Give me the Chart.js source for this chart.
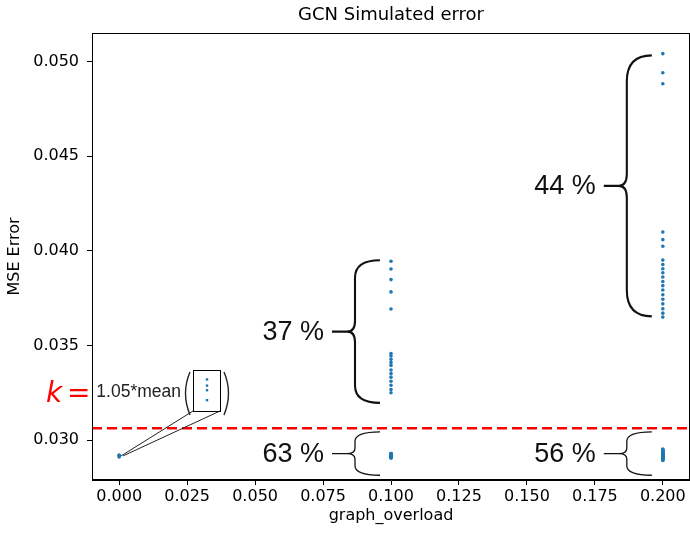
<!DOCTYPE html>
<html>
<head>
<meta charset="utf-8">
<script src="https://cdn.jsdelivr.net/npm/chart.js@4.4.0/dist/chart.umd.min.js"></script>
<style>
  html, body { margin: 0; padding: 0; background: #fff; }
  #wrap { position: relative; width: 690px; height: 535px; overflow: hidden; }
  #main { position: absolute; left: 0; top: 0; }
  #inset { position: absolute; left: 193px; top: 370px; }
</style>
</head>
<body>
<div id="wrap">
  <!-- 4px wider than the page: chart.js keeps a small right gap we cut off -->
  <canvas id="main" width="694" height="535"></canvas>
  <canvas id="inset" width="28" height="42"></canvas>
</div>
<script>
// graph_overload levels
const overloads = [0.0, 0.1, 0.2];

// MSE error per level
const errAt000 = [0.02922, 0.02919, 0.029168, 0.02912];
const errAt010 = [
  0.02906, 0.02907, 0.02909, 0.02910, 0.02911, 0.02912, 0.02912, 0.02913,
  0.02914, 0.02915, 0.02915, 0.02916, 0.02917, 0.02917, 0.02918, 0.02919,
  0.02919, 0.02920, 0.02921, 0.02921, 0.02922, 0.02923, 0.02924, 0.02925,
  0.02926, 0.02927, 0.02928, 0.02929, 0.02930,
  0.03945, 0.03904, 0.03848, 0.03783, 0.03693,
  0.03458, 0.03445, 0.03427, 0.03411, 0.03395, 0.03371, 0.03352, 0.03333,
  0.03311, 0.03290, 0.03268, 0.03251
];
const errAt020 = [
  0.02893, 0.02896, 0.02899, 0.02902, 0.02905, 0.02908, 0.02910, 0.02912,
  0.02914, 0.02916, 0.02918, 0.02920, 0.02922, 0.02924, 0.02926, 0.02928,
  0.02930, 0.02932, 0.02934, 0.02937, 0.02940, 0.02943, 0.02946, 0.02950,
  0.02953,
  0.05041, 0.04940, 0.04882, 0.04099, 0.04059, 0.04024,
  0.03951, 0.03928, 0.03905, 0.03884, 0.03862, 0.03838, 0.03816, 0.03793,
  0.03768, 0.03744, 0.03720, 0.03694, 0.03671, 0.03650
];

const xTicks = [0, 0.025, 0.05, 0.075, 0.1, 0.125, 0.15, 0.175, 0.2];
const yTicks = [0.030, 0.035, 0.040, 0.045, 0.050];

// braces: column, top, bottom, label
const braceX = [0.1, 0.1, 0.2, 0.2];
const braceTop = [0.03950, 0.03044, 0.05032, 0.03044];
const braceBottom = [0.03197, 0.02815, 0.03654, 0.02815];
const braceText = ['37 %', '63 %', '44 %', '56 %'];

const xMin = -0.01, xMax = 0.21;
const yMin = 0.0279, yMax = 0.0515;

// threshold k = 1.05 * mean of the error at overload 0
const meanAt000 = errAt000.reduce((a, b) => a + b, 0) / errAt000.length;
const k = 1.05 * meanAt000;

const points = [];
[errAt000, errAt010, errAt020].forEach((list, i) => {
  list.forEach(v => points.push({ x: overloads[i], y: v }));
});

const inset = { left: 193, top: 370, w: 27, h: 41 };
const tickFont = { family: 'DejaVu Sans', size: 16 };

function drawBrace(ctx, xEnd, xSpine, xTip, yTop, yBot, lw) {
  const h = yBot - yTop;
  const r = Math.min(26, 6 + h * 0.08);
  const r2 = Math.min(12, r * 0.6);
  const mid = (yTop + yBot) / 2;
  const xc = xSpine - 8;
  ctx.lineWidth = lw;
  ctx.beginPath();
  ctx.moveTo(xEnd, yTop);
  ctx.quadraticCurveTo(xSpine, yTop, xSpine, yTop + r);
  ctx.lineTo(xSpine, mid - r2);
  ctx.quadraticCurveTo(xSpine, mid, xc, mid);
  ctx.lineTo(xTip, mid);
  ctx.moveTo(xc, mid);
  ctx.quadraticCurveTo(xSpine, mid, xSpine, mid + r2);
  ctx.lineTo(xSpine, yBot - r);
  ctx.quadraticCurveTo(xSpine, yBot, xEnd, yBot);
  ctx.stroke();
}

const notes = {
  id: 'notes',
  afterDatasetsDraw(chart) {
    const { ctx, chartArea: a, scales: { x, y } } = chart;
    ctx.save();
    // frame
    ctx.strokeStyle = '#000';
    ctx.lineWidth = 1;
    ctx.strokeRect(a.left + 0.5, a.top + 0.5, a.right - a.left - 1, a.bottom - a.top - 1);

    // braces and shares
    ctx.strokeStyle = '#111';
    ctx.fillStyle = '#111';
    ctx.font = '27px "Liberation Sans", Arial, sans-serif';
    ctx.textAlign = 'right';
    ctx.textBaseline = 'middle';
    braceX.forEach((bx, i) => {
      const px = x.getPixelForValue(bx);
      const t = y.getPixelForValue(braceTop[i]);
      const b = y.getPixelForValue(braceBottom[i]);
      const big = b - t > 80;
      drawBrace(ctx, px - 11, px - 36, px - 59, t, b, big ? 2.1 : 1.3);
      ctx.fillText(braceText[i], px - 67, (t + b) / 2 + 1);
    });

    // zoom connectors from the overload 0 point to the inset box
    const p0x = x.getPixelForValue(overloads[0]);
    const p0y = y.getPixelForValue(meanAt000);
    ctx.strokeStyle = '#222';
    ctx.lineWidth = 1;
    ctx.beginPath();
    ctx.moveTo(inset.left, inset.top + inset.h);
    ctx.lineTo(p0x + 2, p0y);
    ctx.moveTo(inset.left + inset.w, inset.top + inset.h);
    ctx.lineTo(p0x + 4, p0y);
    ctx.stroke();

    // parentheses around the inset
    ctx.lineWidth = 1.4;
    ctx.beginPath();
    ctx.moveTo(inset.left - 3, inset.top + 2);
    ctx.quadraticCurveTo(inset.left - 12, inset.top + 23, inset.left - 3, inset.top + 45);
    ctx.moveTo(inset.left + inset.w + 4, inset.top + 2);
    ctx.quadraticCurveTo(inset.left + inset.w + 13, inset.top + 23, inset.left + inset.w + 4, inset.top + 45);
    ctx.stroke();

    // k = 1.05*mean(...)
    ctx.textAlign = 'right';
    ctx.textBaseline = 'alphabetic';
    ctx.fillStyle = '#222';
    ctx.font = '17.5px "Liberation Sans", Arial, sans-serif';
    ctx.fillText('1.05*mean', 181, 397);
    ctx.fillStyle = 'red';
    ctx.textAlign = 'left';
    ctx.font = 'italic 28px "DejaVu Sans"';
    ctx.fillText('k', 46, 402);
    ctx.font = '28px "DejaVu Sans"';
    ctx.fillText('=', 67, 402);
    ctx.restore();
  }
};

new Chart(document.getElementById('main'), {
  type: 'scatter',
  data: {
    datasets: [
      {
        data: points,
        backgroundColor: '#1f77b4',
        pointRadius: 1.8,
        borderWidth: 0
      },
      {
        type: 'line',
        data: [{ x: xMin, y: k }, { x: xMax, y: k }],
        borderColor: 'red',
        borderWidth: 2.3,
        borderDash: [10, 5],
        pointRadius: 0,
        showLine: true
      }
    ]
  },
  options: {
    responsive: false,
    animation: false,
    devicePixelRatio: 1,
    layout: { padding: { right: 1 } },
    plugins: {
      legend: { display: false },
      tooltip: { enabled: false },
      title: {
        display: true,
        fullSize: false,
        text: 'GCN Simulated error',
        color: '#000',
        font: { family: 'DejaVu Sans', size: 18, weight: 'normal' },
        padding: { top: 5, bottom: 6.4 }
      }
    },
    scales: {
      x: {
        type: 'linear',
        min: xMin,
        max: xMax,
        afterBuildTicks: s => { s.ticks = xTicks.map(v => ({ value: v })); },
        afterFit: s => { s.height = 55; },
        ticks: { color: '#000', font: tickFont, padding: 2, maxRotation: 0, callback: v => v.toFixed(3) },
        grid: { display: true, drawOnChartArea: false, tickLength: 5, tickColor: '#000' },
        border: { display: true, color: '#000' },
        title: { display: true, text: 'graph_overload', color: '#000', font: tickFont, padding: { top: 0, bottom: 10 } }
      },
      y: {
        type: 'linear',
        min: yMin,
        max: yMax,
        afterBuildTicks: s => { s.ticks = yTicks.map(v => ({ value: v })); },
        afterFit: s => { s.width = 92; },
        ticks: { color: '#000', font: tickFont, padding: 8, callback: v => v.toFixed(3) },
        grid: { display: true, drawOnChartArea: false, tickLength: 5, tickColor: '#000' },
        border: { display: true, color: '#000' },
        title: { display: true, text: 'MSE Error', color: '#000', font: tickFont, padding: { top: 5, bottom: 0 } }
      }
    }
  },
  plugins: [notes]
});

// zoomed view of the overload 0 points
const insetBox = {
  id: 'insetBox',
  afterDraw(chart) {
    const { ctx } = chart;
    ctx.save();
    ctx.strokeStyle = '#000';
    ctx.lineWidth = 1;
    ctx.strokeRect(0.5, 0.5, inset.w, inset.h);
    ctx.restore();
  }
};

new Chart(document.getElementById('inset'), {
  type: 'scatter',
  data: {
    datasets: [{
      data: errAt000.map(v => ({ x: overloads[0], y: v })),
      backgroundColor: '#1f77b4',
      pointStyle: 'rect',
      pointRadius: 1.7,
      borderWidth: 0
    }]
  },
  options: {
    responsive: false,
    animation: false,
    devicePixelRatio: 1,
    layout: { padding: 0 },
    plugins: { legend: { display: false }, tooltip: { enabled: false } },
    scales: {
      x: { display: false, min: -1, max: 1 },
      y: { display: false, min: 0.0290821, max: 0.0292462 }
    }
  },
  plugins: [insetBox]
});
</script>
</body>
</html>
